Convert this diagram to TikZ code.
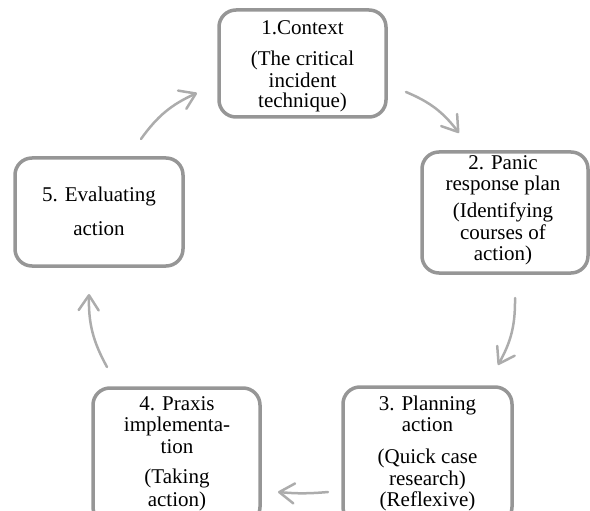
\documentclass[tikz,border=0pt]{standalone}
\usepackage{fontspec}
\setmainfont{Liberation Serif}
\usetikzlibrary{arrows.meta}
\definecolor{boxgray}{RGB}{150,150,150}
\definecolor{arrgray}{RGB}{172,172,172}
\begin{document}
\begin{tikzpicture}[x=1pt,y=-1pt,
  box/.style={draw=boxgray,line width=3.5pt,rounded corners=17pt,inner sep=0pt},
  txt/.style={anchor=base,inner sep=0pt,font=\fontsize{21}{21.5}\selectfont},
  cyc/.style={draw=arrgray,line width=2.5pt,line cap=round,-{Straight Barb[length=15pt,width=20pt,round]}}]
\useasboundingbox (0,0) rectangle (590,511);
\clip (0,0) rectangle (590,511);
% boxes
\node[box,minimum width=167pt,minimum height=107pt] (b1) at (302.5,63.5) {};
\node[box,minimum width=166pt,minimum height=121pt] (b2) at (505,212.5) {};
\node[box,minimum width=169pt,minimum height=137pt] (b3) at (427.5,455.5) {};
\node[box,minimum width=167pt,minimum height=136pt] (b4) at (176.5,456) {};
\node[box,minimum width=168pt,minimum height=108pt] (b5) at (99,212) {};
% texts box 1
\node[txt] (t11) at (302.5,35) {1.Context};
\node[txt] (t12) at (302.5,65.7) {(The critical};
\node[txt] (t13) at (302.5,87.3) {incident};
\node[txt] (t14) at (302.5,108) {technique)};
% box 2
\node[txt] (t21) at (503,170) {2. Panic};
\node[txt] (t22) at (503,190) {response plan};
\node[txt] (t23) at (503,217) {(Identifying};
\node[txt] (t24) at (503,239) {courses of};
\node[txt] (t25) at (503,260.5) {action)};
% box 3
\node[txt] (t31) at (427.5,410) {3. Planning};
\node[txt] (t32) at (427.5,431.7) {action};
\node[txt] (t33) at (427.5,463.3) {(Quick case};
\node[txt] (t34) at (427.5,485) {research)};
\node[txt] (t35) at (427.5,506.7) {(Reflexive)};
% box 4
\node[txt] (t41) at (177,410) {4. Praxis};
\node[txt] (t42) at (177,431.7) {implementa-};
\node[txt] (t43) at (177,453.3) {tion};
\node[txt] (t44) at (177,483.3) {(Taking};
\node[txt] (t45) at (177,506.7) {action)};
% box 5
\node[txt] (t51) at (99,201.7) {5. Evaluating};
\node[txt] (t52) at (99,235) {action};
% connector ends
\coordinate (a12s) at (406,92);
\coordinate (a12e) at (459,133);
\coordinate (a23s) at (515,298);
\coordinate (a23e) at (498,365);
\coordinate (a34s) at (328,492);
\coordinate (a34e) at (278,492);
\coordinate (a45s) at (107,367);
\coordinate (a45e) at (89,294);
\coordinate (a51s) at (141,139);
\coordinate (a51e) at (197,93);
\draw[cyc] (a12s) to[bend left=15] (a12e);
\draw[cyc] (a23s) to[bend left=15] (a23e);
\draw[cyc] (a34s) to[bend left=5] (a34e);
\draw[cyc] (a45s) to[bend left=15] (a45e);
\draw[cyc] (a51s) to[bend left=15] (a51e);
\end{tikzpicture}
\end{document}
